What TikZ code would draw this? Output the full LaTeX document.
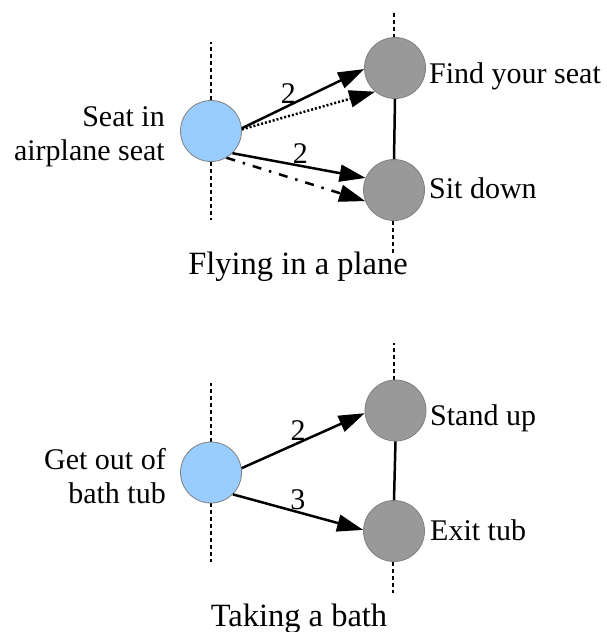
\documentclass[tikz,border=0pt]{standalone}
\usepackage{fontspec}
\setmainfont{Liberation Serif}
\usetikzlibrary{arrows.meta}
\definecolor{srcblue}{RGB}{153,204,255}
\definecolor{stepgray}{RGB}{153,153,153}
\definecolor{rimgray}{RGB}{128,128,128}

\begin{document}
\begin{tikzpicture}[x=1pt,y=-1pt,
  every node/.style={font=\fontsize{30}{34}\selectfont},
  origin/.style={circle, minimum size=61pt, inner sep=0pt,
    fill=srcblue, draw=rimgray, line width=0.8pt},
  action/.style={circle, minimum size=61pt, inner sep=0pt,
    fill=stepgray, draw=rimgray, line width=0.8pt},
  caption/.style={inner sep=0pt, align=right, anchor=north east},
  sidelabel/.style={inner sep=0pt, anchor=base west},
  heading/.style={inner sep=0pt, anchor=base, font=\fontsize{32.5}{36}\selectfont},
  weight/.style={inner sep=1pt, anchor=south},
  axisline/.style={line width=2.3pt, dash pattern=on 4pt off 3pt},
  flow/.style={line width=2.5pt, -{Triangle[length=26pt,width=17pt]}},
  dottedflow/.style={flow, dash pattern=on 2pt off 2pt},
  dashdotflow/.style={flow, dash pattern=on 9pt off 8pt on 2.5pt off 8pt},
  link/.style={line width=2.5pt}
]
\useasboundingbox (0,0) rectangle (606,632);

% ---------- Flying in a plane ----------
\coordinate (s1up) at (211,42);
\coordinate (s1dn) at (211,220);
\coordinate (f1up) at (394,13);
\coordinate (f2dn) at (393,253);
\draw[axisline] (211,100) -- (s1up);
\draw[axisline] (211,162) -- (s1dn);
\draw[axisline] (394,38) -- (f1up);
\draw[axisline] (393,221) -- (f2dn);

\node[origin] (s1) at (211,131) {};
\node[action] (f1) at (395,68) {};
\node[action] (f2) at (394,190) {};

\draw[link] (f1.south) -- (f2.north);

\draw[flow] (s1.5) -- node[weight,pos=0.38] {2} (f1.182);
\draw[dottedflow] (s1.3) -- (f1.230);
\draw[flow] (s1.-46) -- node[weight,pos=0.51] {2} (f2.157);
\draw[dashdotflow] (s1.-60) -- (f2.201);

\node[caption] (t1) at (165,106.5) {Seat in\\airplane seat};
\node[sidelabel] (l1) at (429,83) {Find your seat};
\node[sidelabel] (l2) at (429,198) {Sit down};
\node[heading] (h1) at (298,274) {Flying in a plane};

% ---------- Taking a bath ----------
\coordinate (s2up) at (211,383);
\coordinate (s2dn) at (211,562);
\coordinate (f3up) at (394,343);
\coordinate (f4dn) at (393,593);
\draw[axisline] (211,442) -- (s2up);
\draw[axisline] (211,503) -- (s2dn);
\draw[axisline] (394,380) -- (f3up);
\draw[axisline] (393,562) -- (f4dn);

\node[origin] (s2) at (211,472.5) {};
\node[action] (f3) at (395.5,410.5) {};
\node[action] (f4) at (394,531) {};

\draw[link] (f3.south) -- (f4.north);

\draw[flow] (s2.8) -- node[weight,pos=0.46] {2} (f3.185);
\draw[flow] (s2.-45) -- node[weight,pos=0.5] {3} (f4.178);

\node[caption] (t2) at (166,448) {Get out of\\bath tub};
\node[sidelabel] (l3) at (430,425) {Stand up};
\node[sidelabel] (l4) at (430,540) {Exit tub};
\node[heading] (h2) at (299,626) {Taking a bath};
\end{tikzpicture}
\end{document}
